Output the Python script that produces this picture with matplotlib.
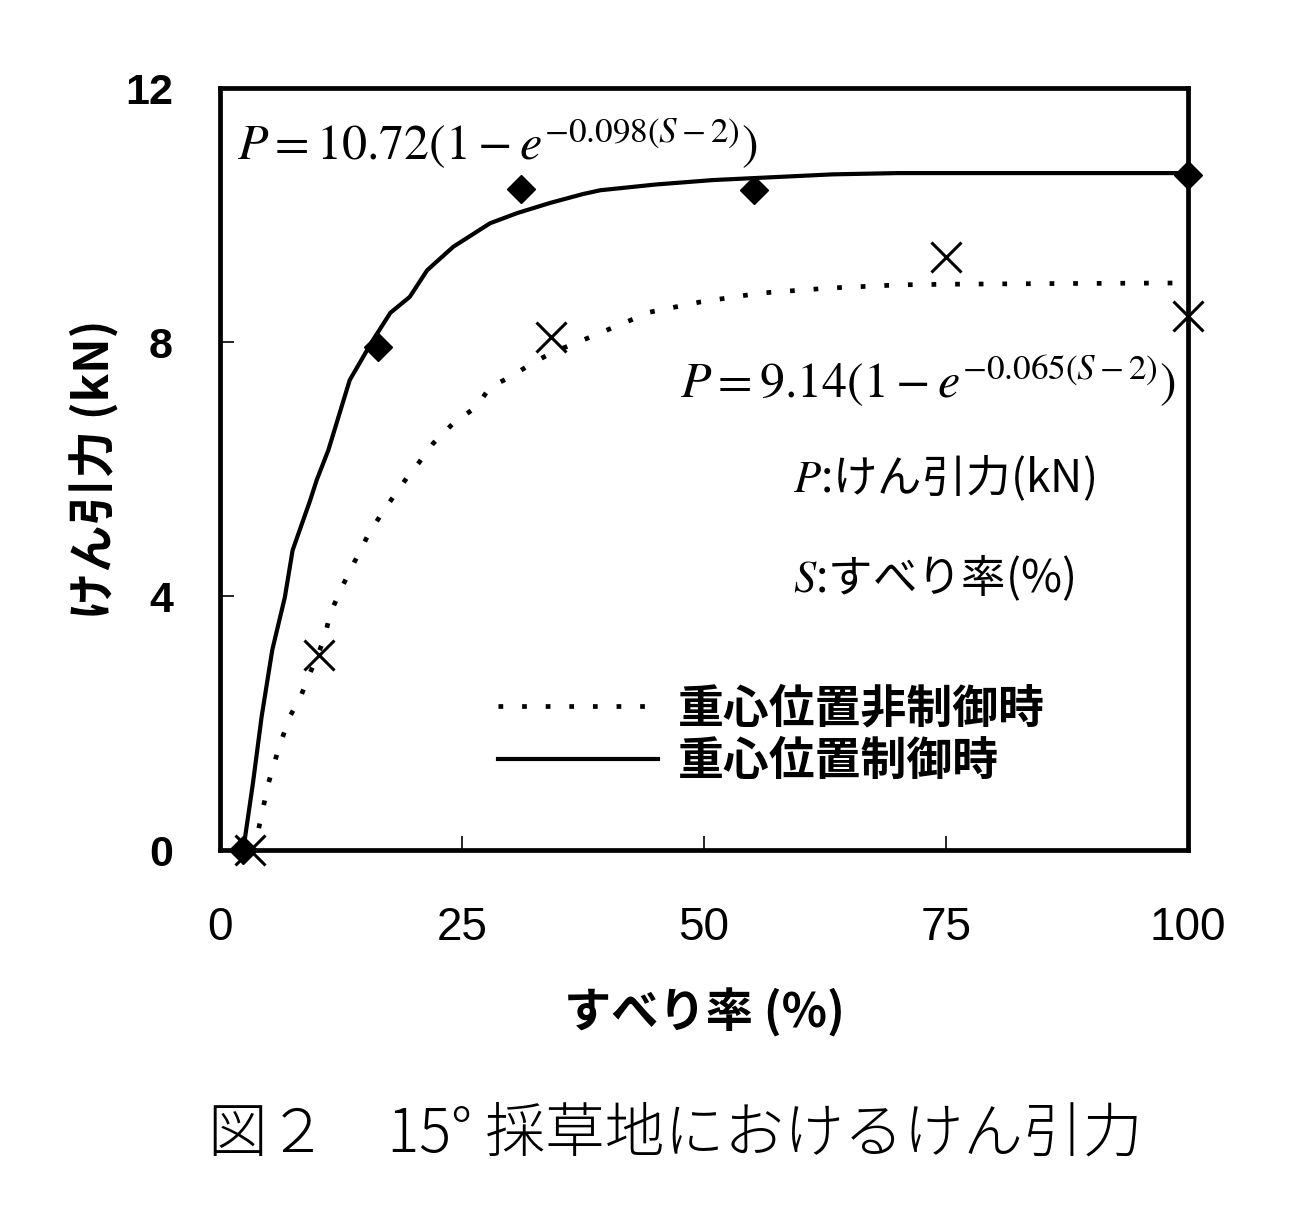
import matplotlib
matplotlib.use("Agg")
import matplotlib.pyplot as plt

plt.rcParams['font.family'] = ['Noto Sans CJK JP', 'DejaVu Sans']
plt.rcParams['mathtext.fontset'] = 'stix'

# ---- data ----
# fitted curve (solid): 重心位置制御時
solid_s = [2.4, 3.4, 4.3, 5.4, 6.7, 7.5, 9.3, 10.0, 11.2, 13.4, 15.8, 17.6, 19.6, 21.4,
           24.1, 27.9, 30.7, 34.1, 37.5, 39.3, 45.0, 50.9, 55.0, 63.3, 70.0, 80.0, 88.8, 100.0]
solid_p = [0.0, 1.05, 2.1, 3.15, 3.98, 4.72, 5.5, 5.83, 6.3, 7.4, 8.03, 8.46, 8.71, 9.13,
           9.5, 9.87, 10.03, 10.19, 10.33, 10.39, 10.48, 10.55, 10.58, 10.64, 10.66, 10.66, 10.66, 10.66]
# fitted curve (dotted): 重心位置非制御時
dot_s = [3.1, 3.9, 5.0, 6.0, 7.2, 8.3, 9.0, 10.1, 10.8, 11.4, 12.6, 13.9, 15.2, 16.7, 17.9,
         19.3, 20.5, 22.0, 24.1, 26.5, 27.9, 30.0, 32.3, 34.4, 37.5, 44.4, 49.6, 55.8, 63.0,
         70.2, 75.4, 85.7, 100.0]
dot_p = [0.0, 0.27, 1.05, 1.57, 2.1, 2.4, 2.68, 3.07, 3.35, 3.73, 4.14, 4.54, 4.93, 5.3, 5.56,
         5.86, 6.09, 6.4, 6.72, 6.98, 7.29, 7.45, 7.67, 7.84, 8.03, 8.47, 8.63, 8.77, 8.85,
         8.9, 8.91, 8.92, 8.93]
# measured points
diamond_s = [2.4, 16.3, 31.1, 55.2, 100.0]
diamond_p = [0.0, 7.92, 10.41, 10.40, 10.63]
cross_s = [3.1, 10.2, 34.2, 75.0, 100.0]
cross_p = [0.0, 3.07, 8.08, 9.34, 8.41]

x_ticks = [0, 25, 50, 75, 100]
y_ticks = [0, 4, 8, 12]
legend_labels = ['重心位置非制御時', '重心位置制御時']
x_label = 'すべり率 (%)'
y_label = 'けん引力 (kN)'
title = '図２　15° 採草地におけるけん引力'
eq1 = r'$P = 10.72\left(1-e^{-0.098(S-2)}\right)$'
eq2 = r'$P = 9.14\left(1-e^{-0.065(S-2)}\right)$'
note1 = '$P$:けん引力(kN)'
note2 = '$S$:すべり率(%)'

W, H = 1292, 1210
fig = plt.figure(figsize=(W / 100, H / 100), dpi=100)
ax = fig.add_axes([220 / W, 1 - 850 / H, (1188 - 220) / W, (850 - 88) / H])

ax.plot(dot_s, dot_p, color='black', lw=3.4, linestyle=(0, (1.0, 4.0)), label=legend_labels[0])
ax.plot(solid_s, solid_p, color='black', lw=3, label=legend_labels[1])
ax.plot(diamond_s, diamond_p, linestyle='none', marker='D', markersize=14,
        color='black', clip_on=False, zorder=5)
ax.plot(cross_s, cross_p, linestyle='none', marker='x', markersize=22, mew=2.2,
        color='black', clip_on=False, zorder=5)

ax.set_xlim(0, 100)
ax.set_ylim(0, 12)
ax.set_xticks(x_ticks)
ax.set_yticks(y_ticks)
for sp in ax.spines.values():
    sp.set_linewidth(3.4)
ax.tick_params(direction='in', length=10, width=1.2, top=False, right=False)
ax.tick_params(axis='x', pad=40)
ax.tick_params(axis='y', pad=34)
for lab in ax.get_xticklabels():
    lab.set_family(['Liberation Sans', 'DejaVu Sans'])
    lab.set_fontsize(33)
for lab in ax.get_yticklabels():
    lab.set_family(['Liberation Sans', 'DejaVu Sans'])
    lab.set_fontsize(31)
    lab.set_fontweight('bold')

ax.set_xlabel(x_label, fontsize=34, fontweight='bold', labelpad=28)
ax.set_ylabel(y_label, fontsize=34, fontweight='bold', labelpad=4)

leg = ax.legend(loc='upper left', bbox_to_anchor=(498 / W, 1 - 686 / H),
                bbox_transform=fig.transFigure, frameon=False, fontsize=33,
                handlelength=3.5, handletextpad=0.42, labelspacing=0.15,
                borderpad=0, borderaxespad=0)
for t in leg.get_texts():
    t.set_fontweight('bold')

fig.text(237 / W, 1 - 160 / H, eq1, fontsize=36, ha='left', va='baseline')
fig.text(680 / W, 1 - 397 / H, eq2, fontsize=36, ha='left', va='baseline')
fig.text(793 / W, 1 - 478 / H, note1, fontsize=32, ha='left', va='center')
fig.text(793 / W, 1 - 578 / H, note2, fontsize=32, ha='left', va='center')

fig.text(675 / W, 1 - 1135 / H, title, fontsize=43, ha='center', va='center',
         fontweight='light')

fig.savefig('out.png', dpi=100)
